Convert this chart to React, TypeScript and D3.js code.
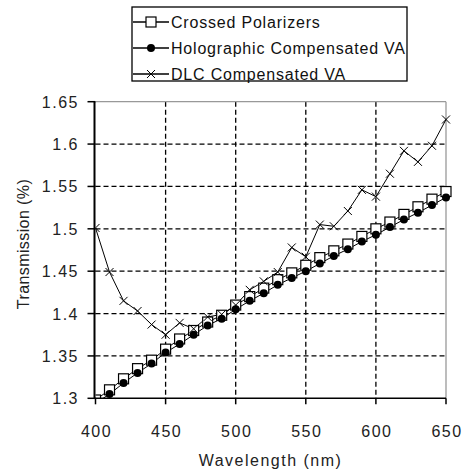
import React from 'react';
import * as d3 from 'd3';

const wavelengths = [400, 410, 420, 430, 440, 450, 460, 470, 480, 490, 500, 510, 520, 530, 540, 550, 560, 570, 580, 590, 600, 610, 620, 630, 640, 650];
const crossedPolarizers = [1.298, 1.310, 1.323, 1.335, 1.345, 1.358, 1.370, 1.380, 1.390, 1.398, 1.410, 1.420, 1.430, 1.440, 1.448, 1.457, 1.466, 1.474, 1.482, 1.491, 1.500, 1.508, 1.517, 1.526, 1.535, 1.544];
const holographic = [1.294, 1.305, 1.318, 1.330, 1.341, 1.354, 1.364, 1.375, 1.386, 1.394, 1.405, 1.415, 1.424, 1.434, 1.442, 1.450, 1.459, 1.468, 1.476, 1.485, 1.493, 1.502, 1.511, 1.519, 1.528, 1.537];
const dlc = [1.501, 1.449, 1.415, 1.403, 1.387, 1.375, 1.389, 1.382, 1.396, 1.399, 1.410, 1.428, 1.438, 1.449, 1.478, 1.467, 1.505, 1.503, 1.521, 1.546, 1.538, 1.565, 1.592, 1.579, 1.598, 1.629];
const xTicks = [400, 450, 500, 550, 600, 650];
const yTicks = [1.3, 1.35, 1.4, 1.45, 1.5, 1.55, 1.6, 1.65];
const yTickLabels = ['1.3', '1.35', '1.4', '1.45', '1.5', '1.55', '1.6', '1.65'];
const seriesNames = ['Crossed Polarizers', 'Holographic Compensated VA', 'DLC Compensated VA'];

const W = 464, H = 474;
const L = 95.5, R = 446, T = 101.7, B = 398.3;
const FONT = '"Liberation Sans", Arial, sans-serif';

function Marker({ kind, x, y }: { kind: number; x: number; y: number }) {
  if (kind === 0) return <rect x={x - 5} y={y - 5} width={10} height={10} fill="#fff" stroke="#000" strokeWidth={1.2} />;
  if (kind === 1) return <circle cx={x} cy={y} r={4} fill="#000" />;
  return (
    <g stroke="#000" strokeWidth={1}>
      <line x1={x - 4} y1={y - 4} x2={x + 4} y2={y + 4} />
      <line x1={x - 4} y1={y + 4} x2={x + 4} y2={y - 4} />
    </g>
  );
}

export default function App() {
  const x = d3.scaleLinear().domain([400, 650]).range([L, R]);
  const y = d3.scaleLinear().domain([1.3, 1.65]).range([B, T]);
  const series = [crossedPolarizers, holographic, dlc];
  const line = d3.line<number>().x((_, i) => x(wavelengths[i])).y(d => y(d));

  return (
    <svg width={W} height={H} style={{ position: 'absolute', left: 0, top: 0, background: '#fff' }}>
      <rect x={0} y={0} width={W} height={H} fill="#fff" />
      <defs>
        <clipPath id="plot"><rect x={L} y={T - 8} width={R - L + 8} height={B - T + 8} /></clipPath>
      </defs>
      {/* grid */}
      {xTicks.slice(1, -1).map(t => (
        <line key={'gx' + t} x1={x(t)} x2={x(t)} y1={T} y2={B} stroke="#000" strokeWidth={1.3} strokeDasharray="5,3" />
      ))}
      {yTicks.slice(1, -1).map(t => (
        <line key={'gy' + t} x1={L} x2={R} y1={y(t)} y2={y(t)} stroke="#000" strokeWidth={1.3} strokeDasharray="5,3" />
      ))}
      <line x1={L} x2={R} y1={T} y2={T} stroke="#999" strokeWidth={1.3} />
      <line x1={R} x2={R} y1={T} y2={B} stroke="#999" strokeWidth={1.3} />
      {/* series */}
      <g clipPath="url(#plot)">
        {series.map((s, k) => (
          <g key={'s' + k}>
            <path d={line(s) || ''} fill="none" stroke="#000" strokeWidth={1} />
          </g>
        ))}
        {series.map((s, k) => (
          <g key={'m' + k}>
            {s.map((v, i) => (
              <Marker key={i} kind={k} x={x(wavelengths[i])} y={y(v)} />
            ))}
          </g>
        ))}
      </g>
      <rect x={0} y={B + 1} width={L - 1} height={10} fill="#fff" />
      {/* axes */}
      <line x1={L - 1} x2={L - 1} y1={T} y2={B} stroke="#000" strokeWidth={2} />
      <line x1={L - 1} x2={R} y1={B} y2={B} stroke="#000" strokeWidth={1.5} />
      {yTicks.map(t => (
        <line key={'ty' + t} x1={L - 8} x2={L} y1={y(t)} y2={y(t)} stroke="#000" strokeWidth={1.5} />
      ))}
      {xTicks.map(t => (
        <line key={'tx' + t} x1={x(t)} x2={x(t)} y1={B} y2={B + 6} stroke="#000" strokeWidth={1.5} />
      ))}
      {yTicks.map((t, i) => (
        <text key={'ly' + t} x={79} y={y(t) + 6} textAnchor="end" fontFamily={FONT} fontSize={16} letterSpacing={1.5} fill="#222">{yTickLabels[i]}</text>
      ))}
      {xTicks.map(t => (
        <text key={'lx' + t} x={x(t) + 1} y={437} textAnchor="middle" fontFamily={FONT} fontSize={16} letterSpacing={1.5} fill="#222">{t}</text>
      ))}
      <text x={270.5} y={466} textAnchor="middle" fontFamily={FONT} fontSize={16} letterSpacing={1.5} fill="#222">Wavelength (nm)</text>
      <text transform={`translate(29,${(T + B) / 2 - 6}) rotate(-90)`} textAnchor="middle" fontFamily={FONT} fontSize={16} letterSpacing={0.4} fill="#222">Transmission (%)</text>
      {/* legend */}
      <rect x={132} y={7} width={275} height={74} fill="#fff" stroke="#000" strokeWidth={1.3} />
      {seriesNames.map((n, k) => {
        const ly = 22 + k * 26;
        return (
          <g key={'lg' + k}>
            <line x1={133} x2={169} y1={ly} y2={ly} stroke="#000" strokeWidth={1.3} />
            <Marker kind={k} x={151} y={ly} />
            <text x={171} y={ly + 6} fontFamily={FONT} fontSize={16} letterSpacing={0.8} fill="#111">{n}</text>
          </g>
        );
      })}
    </svg>
  );
}
